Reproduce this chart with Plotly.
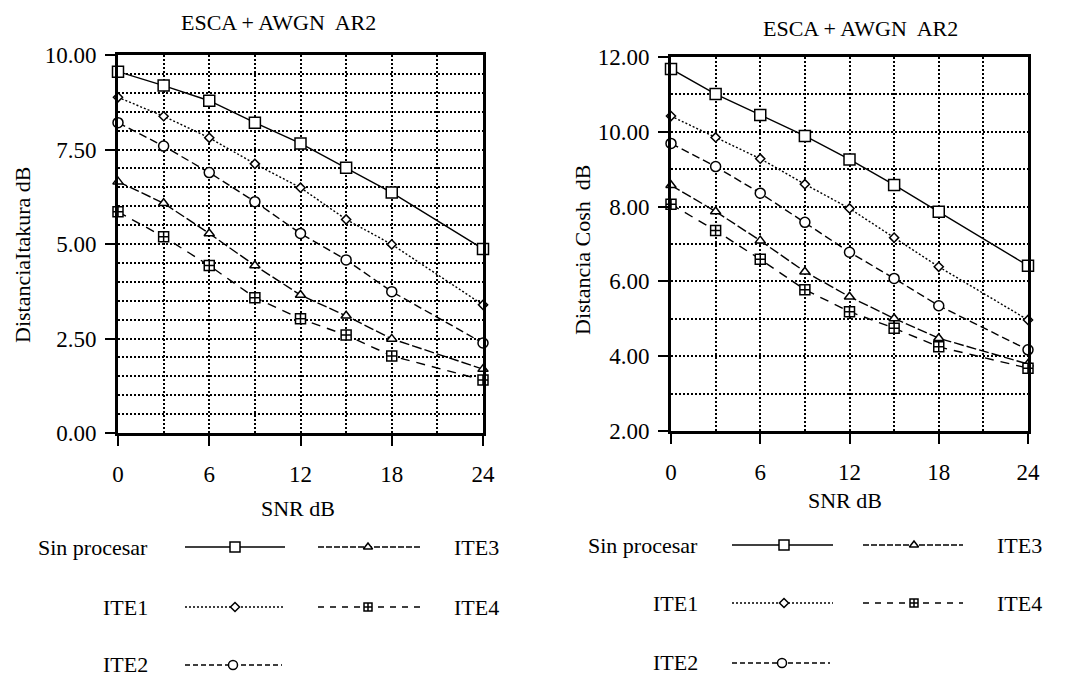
import plotly.graph_objects as go

# ---------------- data ----------------
snr = [0, 3, 6, 9, 12, 15, 18, 24]

series_names = ["Sin procesar", "ITE1", "ITE2", "ITE3", "ITE4"]

sin_itakura = [9.56, 9.19, 8.79, 8.21, 7.66, 7.02, 6.36, 4.87]
ite1_itakura = [8.88, 8.38, 7.81, 7.12, 6.49, 5.65, 4.99, 3.39]
ite2_itakura = [8.21, 7.59, 6.89, 6.12, 5.28, 4.58, 3.74, 2.38]
ite3_itakura = [6.65, 6.08, 5.28, 4.43, 3.65, 3.10, 2.49, 1.69]
ite4_itakura = [5.85, 5.19, 4.43, 3.58, 3.02, 2.59, 2.04, 1.40]

sin_cosh = [11.68, 11.01, 10.45, 9.89, 9.26, 8.58, 7.86, 6.42]
ite1_cosh = [10.42, 9.85, 9.28, 8.60, 7.95, 7.17, 6.39, 4.97]
ite2_cosh = [9.69, 9.07, 8.36, 7.58, 6.78, 6.08, 5.35, 4.17]
ite3_cosh = [8.57, 7.87, 7.09, 6.26, 5.59, 5.01, 4.48, 3.79]
ite4_cosh = [8.06, 7.36, 6.59, 5.78, 5.19, 4.75, 4.25, 3.68]

itakura = [sin_itakura, ite1_itakura, ite2_itakura, ite3_itakura, ite4_itakura]
cosh = [sin_cosh, ite1_cosh, ite2_cosh, ite3_cosh, ite4_cosh]

title_text = "ESCA + AWGN\u00a0 AR2"
xtitle = "SNR dB"
ytitle_left = "DistanciaItakura dB"
ytitle_right = "Distancia Cosh\u00a0 dB"

# ---------------- styles ----------------
FONT = "Times New Roman, Liberation Serif, Tinos, DejaVu Serif, serif"
symbols = ["square", "diamond", "circle", "triangle-up", "square-cross"]
dashes = ["solid", "2px,2px", "8px,4px", "10px,3px", "9px,7px"]
lg_dashes = ["solid", "2px,2px", "5px,3px", "6px,2px", "6px,6px"]
msizes = [11, 7, 10, 9, 10]
lg_sizes = [10, 7, 9, 8, 8]

fig = go.Figure()

for ax, data in (("", itakura), ("2", cosh)):
    for name, ys, sym, dash, ms in zip(series_names, data, symbols, dashes, msizes):
        fig.add_trace(go.Scatter(
            x=snr, y=ys, name=name, xaxis="x" + ax, yaxis="y" + ax,
            mode="lines+markers", cliponaxis=False, showlegend=False,
            line=dict(color="black", width=1.4, dash=dash),
            marker=dict(symbol=sym, size=ms, color="white",
                        line=dict(color="black", width=1.5)),
        ))

# ---------------- custom legends (pixel-space overlay axis) ----------------
legend_defs = [
    dict(rows=[(0, 185, 285, 235, 547), (3, 318, 420, 368, 547),
               (1, 185, 285, 235, 607), (4, 318, 420, 368, 607),
               (2, 185, 282, 233, 665)],
         labels=[(0, 150, 547, "right"), (3, 452, 547, "left"),
                 (1, 150, 607, "right"), (4, 452, 607, "left"),
                 (2, 150, 664, "right")]),
    dict(rows=[(0, 732, 833, 784, 545), (3, 863, 963, 914, 545),
               (1, 732, 833, 784, 603), (4, 863, 963, 914, 603),
               (2, 732, 830, 782, 663)],
         labels=[(0, 700, 545, "right"), (3, 995, 545, "left"),
                 (1, 700, 603, "right"), (4, 995, 603, "left"),
                 (2, 700, 662, "right")]),
]

annotations = []
for lg in legend_defs:
    for i, x0, x1, xm, y in lg["rows"]:
        fig.add_trace(go.Scatter(
            x=[x0, x1], y=[y, y], xaxis="x3", yaxis="y3", mode="lines",
            showlegend=False, hoverinfo="skip",
            line=dict(color="black", width=1.4, dash=lg_dashes[i])))
        fig.add_trace(go.Scatter(
            x=[xm], y=[y], xaxis="x3", yaxis="y3", mode="markers",
            showlegend=False, hoverinfo="skip", cliponaxis=False,
            marker=dict(symbol=symbols[i], size=lg_sizes[i], color="white",
                        line=dict(color="black", width=1.5))))
    for i, x, y, anchor in lg["labels"]:
        annotations.append(dict(
            text=series_names[i], x=x, y=y, xref="x3", yref="y3",
            xanchor=anchor, yanchor="middle", showarrow=False,
            font=dict(family=FONT, size=22, color="black")))

for x, y, txt, ang in [(278, 22, title_text, 0), (860, 28, title_text, 0),
                       (298, 508, xtitle, 0), (845, 500, xtitle, 0),
                       (22, 255, ytitle_left, -90), (582, 250, ytitle_right, -90)]:
    annotations.append(dict(
        text=txt, x=x, y=y, xref="x3", yref="y3", xanchor="center",
        yanchor="middle", showarrow=False, textangle=ang,
        font=dict(family=FONT, size=22, color="black")))

grid = dict(showgrid=True, gridcolor="black", gridwidth=1.6, griddash="2px,2px")


def xaxis(domain, anchor):
    return dict(domain=domain, anchor=anchor, range=[0, 24], tick0=0, dtick=6,
                ticks="outside", ticklen=10, tickwidth=2, tickcolor="black",
                ticklabelstandoff=8, automargin=False,
                showline=True, linecolor="black", linewidth=2.8, mirror=True,
                zeroline=False, fixedrange=True,
                tickfont=dict(family=FONT, size=23, color="black"),
                minor=dict(dtick=3, tick0=0, ticks="", **grid), **grid)


def yaxis(domain, anchor, rng, dtick, mdtick):
    return dict(domain=domain, anchor=anchor, range=rng, tick0=rng[0], dtick=dtick,
                tickformat=".2f", ticks="outside", ticklen=10, tickwidth=2,
                tickcolor="black", ticklabelstandoff=4, automargin=False,
                showline=True, linecolor="black", linewidth=2.8,
                mirror=True, zeroline=False, fixedrange=True,
                tickfont=dict(family=FONT, size=23, color="black"),
                minor=dict(dtick=mdtick, tick0=rng[0], ticks="", **grid), **grid)


W, H = 1068, 679
fig.update_layout(
    width=W, height=H, margin=dict(l=0, r=0, t=0, b=0, pad=0, autoexpand=False),
    paper_bgcolor="white", plot_bgcolor="rgba(0,0,0,0)",
    showlegend=False,
    font=dict(family=FONT, color="black"),
    xaxis=xaxis([118 / W, 483 / W], "y"),
    yaxis=yaxis([1 - 433 / H, 1 - 55 / H], "x", [0, 10], 2.5, 0.5),
    xaxis2=xaxis([671 / W, 1028 / W], "y2"),
    yaxis2=yaxis([1 - 431 / H, 1 - 57 / H], "x2", [2, 12], 2, 1),
    xaxis3=dict(domain=[0, 1], anchor="y3", range=[0, W], visible=False,
                fixedrange=True, automargin=False),
    yaxis3=dict(domain=[0, 1], anchor="x3", range=[H, 0], visible=False,
                fixedrange=True, automargin=False),
    annotations=annotations,
)

fig.write_html("out.html", config={"responsive": False})
